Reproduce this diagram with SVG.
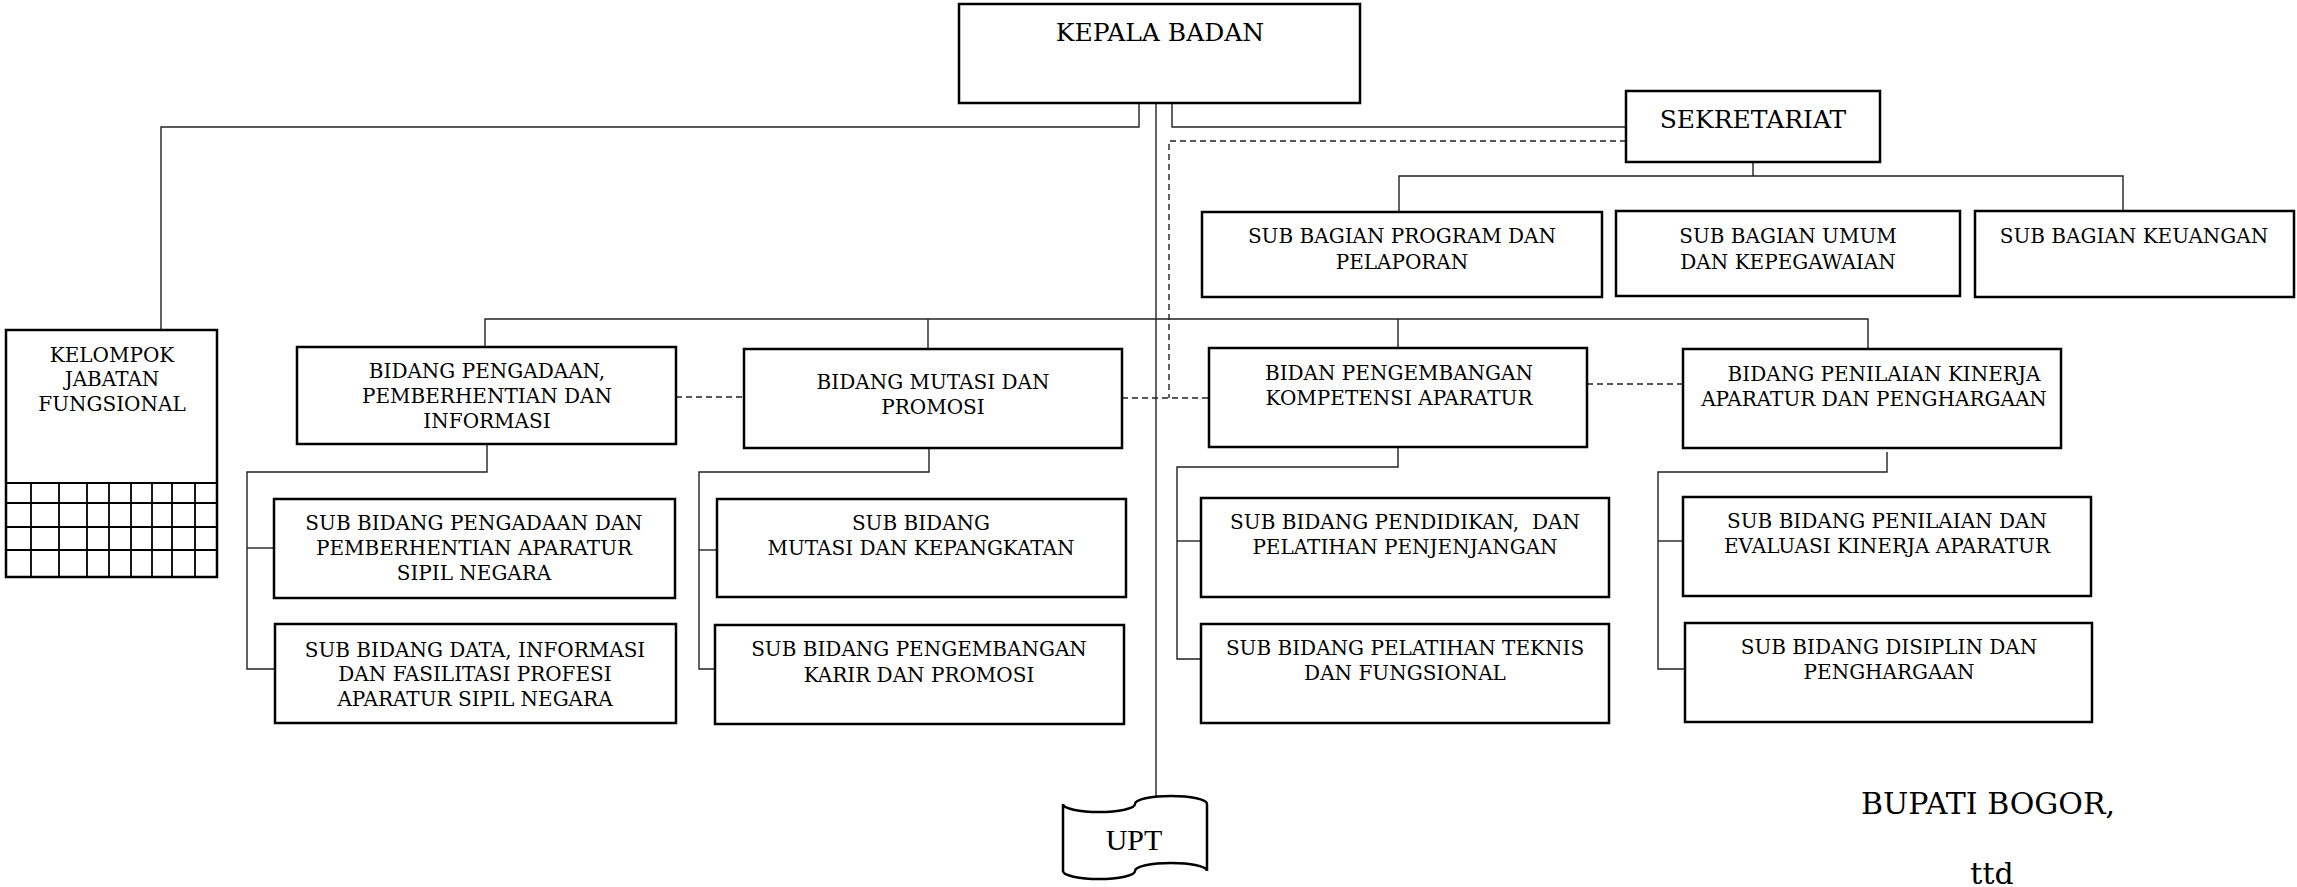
<svg xmlns="http://www.w3.org/2000/svg" width="2297" height="887" viewBox="0 0 2297 887">
<style>
.box{fill:#fff;stroke:#000;stroke-width:2.5}
.grid{fill:none;stroke:#000;stroke-width:1.8}
.t{font-family:"DejaVu Serif","Liberation Serif",serif;font-size:20px;fill:#000;text-anchor:middle;white-space:pre}
.big{font-size:25px}
.sig{font-size:30px}
.upt{font-family:"Liberation Serif",serif;font-size:30px}
.conn{fill:none;stroke:#222;stroke-width:1.4}
.dash{fill:none;stroke:#222;stroke-width:1.4;stroke-dasharray:6 4}
</style>
<rect width="2297" height="887" fill="#fff"/>
<g id="connectors">
<path class="conn" d="M1139,103 V127 H161 V330"/>
<path class="conn" d="M1172,103 V127 H1626"/>
<path class="conn" d="M1156,103 V797"/>
<path class="conn" d="M1753,162 V176"/>
<path class="conn" d="M1399,211 V176 H2123 V211"/>
<path class="conn" d="M485,346 V319 H1868 V349"/>
<path class="conn" d="M928,319 V349"/>
<path class="conn" d="M1398,319 V348"/>
<path class="conn" d="M487,444 V472 H247 V669 H275"/>
<path class="conn" d="M247,548 H274"/>
<path class="conn" d="M929,448 V472 H699 V669 H715"/>
<path class="conn" d="M699,550 H717"/>
<path class="conn" d="M1398,447 V467 H1177 V659 H1201"/>
<path class="conn" d="M1177,541 H1201"/>
<path class="conn" d="M1887,452 V472 H1658 V669 H1685"/>
<path class="conn" d="M1658,541 H1683"/>
<path class="dash" d="M676,397 H744"/>
<path class="dash" d="M1122,398 H1209"/>
<path class="dash" d="M1587,384 H1683"/>
<path class="dash" d="M1626,141 H1169 V398"/>
</g>
<g id="kepala-badan">
<rect class="box" x="959" y="4" width="401" height="99"/>
<text class="t big" x="1160" y="41">KEPALA BADAN</text>
</g>
<g id="sekretariat">
<rect class="box" x="1626" y="91" width="254" height="71"/>
<text class="t big" x="1753" y="128">SEKRETARIAT</text>
</g>
<g id="sub-bagian-program">
<rect class="box" x="1202" y="212" width="400" height="85"/>
<text class="t" x="1402" y="243">SUB BAGIAN PROGRAM DAN</text>
<text class="t" x="1402" y="269">PELAPORAN</text>
</g>
<g id="sub-bagian-umum">
<rect class="box" x="1616" y="211" width="344" height="85"/>
<text class="t" x="1788" y="243">SUB BAGIAN UMUM</text>
<text class="t" x="1788" y="269">DAN KEPEGAWAIAN</text>
</g>
<g id="sub-bagian-keuangan">
<rect class="box" x="1975" y="211" width="319" height="86"/>
<text class="t" x="2134" y="243">SUB BAGIAN KEUANGAN</text>
</g>
<g id="kelompok-jabatan-fungsional">
<rect class="box" x="6" y="330" width="211" height="247"/>
<path class="grid" d="M6,483 H217 M6,503 H217 M6,527 H217 M6,550 H217 M31,483 V577 M59,483 V577 M87,483 V577 M109,483 V577 M131,483 V577 M152,483 V577 M172,483 V577 M195,483 V577"/>
<text class="t" x="112" y="362">KELOMPOK</text>
<text class="t" x="112" y="386">JABATAN</text>
<text class="t" x="112" y="411">FUNGSIONAL</text>
</g>
<g id="bidang-pengadaan">
<rect class="box" x="297" y="347" width="379" height="97"/>
<text class="t" x="487" y="378">BIDANG PENGADAAN,</text>
<text class="t" x="487" y="403">PEMBERHENTIAN DAN</text>
<text class="t" x="487" y="428">INFORMASI</text>
</g>
<g id="bidang-mutasi">
<rect class="box" x="744" y="349" width="378" height="99"/>
<text class="t" x="933" y="389">BIDANG MUTASI DAN</text>
<text class="t" x="933" y="414">PROMOSI</text>
</g>
<g id="bidang-pengembangan">
<rect class="box" x="1209" y="348" width="378" height="99"/>
<text class="t" x="1399" y="380">BIDAN PENGEMBANGAN</text>
<text class="t" x="1399" y="405">KOMPETENSI APARATUR</text>
</g>
<g id="bidang-penilaian">
<rect class="box" x="1683" y="349" width="378" height="99"/>
<text class="t" x="1884" y="381">BIDANG PENILAIAN KINERJA</text>
<text class="t" x="1874" y="406">APARATUR DAN PENGHARGAAN</text>
</g>
<g id="sub-bidang-pengadaan">
<rect class="box" x="274" y="499" width="401" height="99"/>
<text class="t" x="474" y="530">SUB BIDANG PENGADAAN DAN</text>
<text class="t" x="474" y="555">PEMBERHENTIAN APARATUR</text>
<text class="t" x="474" y="580">SIPIL NEGARA</text>
</g>
<g id="sub-bidang-data">
<rect class="box" x="275" y="624" width="401" height="99"/>
<text class="t" x="475" y="657">SUB BIDANG DATA, INFORMASI</text>
<text class="t" x="475" y="681">DAN FASILITASI PROFESI</text>
<text class="t" x="475" y="706">APARATUR SIPIL NEGARA</text>
</g>
<g id="sub-bidang-mutasi">
<rect class="box" x="717" y="499" width="409" height="98"/>
<text class="t" x="921" y="530">SUB BIDANG</text>
<text class="t" x="921" y="555">MUTASI DAN KEPANGKATAN</text>
</g>
<g id="sub-bidang-karir">
<rect class="box" x="715" y="625" width="409" height="99"/>
<text class="t" x="919" y="656">SUB BIDANG PENGEMBANGAN</text>
<text class="t" x="919" y="682">KARIR DAN PROMOSI</text>
</g>
<g id="sub-bidang-pendidikan">
<rect class="box" x="1201" y="498" width="408" height="99"/>
<text class="t" x="1405" y="529">SUB BIDANG PENDIDIKAN,  DAN</text>
<text class="t" x="1405" y="554">PELATIHAN PENJENJANGAN</text>
</g>
<g id="sub-bidang-pelatihan">
<rect class="box" x="1201" y="624" width="408" height="99"/>
<text class="t" x="1405" y="655">SUB BIDANG PELATIHAN TEKNIS</text>
<text class="t" x="1405" y="680">DAN FUNGSIONAL</text>
</g>
<g id="sub-bidang-penilaian">
<rect class="box" x="1683" y="497" width="408" height="99"/>
<text class="t" x="1887" y="528">SUB BIDANG PENILAIAN DAN</text>
<text class="t" x="1887" y="553">EVALUASI KINERJA APARATUR</text>
</g>
<g id="sub-bidang-disiplin">
<rect class="box" x="1685" y="623" width="407" height="99"/>
<text class="t" x="1889" y="654">SUB BIDANG DISIPLIN DAN</text>
<text class="t" x="1889" y="679">PENGHARGAAN</text>
</g>
<g id="upt">
<path class="box" d="M1063,804 A36,8 0 0 0 1135,804 A36,8 0 0 1 1207,804 L1207,871 A36,8 0 0 0 1135,871 A36,8 0 0 1 1063,871 Z"/>
<text class="t upt" x="1134" y="850">UPT</text>
</g>
<g id="signature">
<text class="t sig" x="1988" y="814">BUPATI BOGOR,</text>
<text class="t sig" x="1992" y="884">ttd</text>
</g>
</svg>
